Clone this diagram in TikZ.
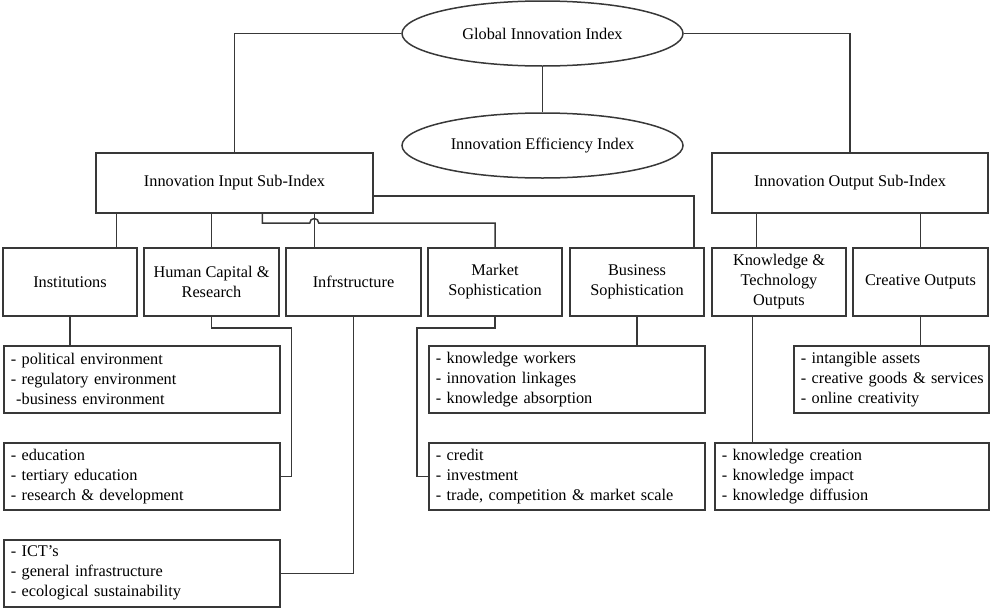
\documentclass[tikz,border=0pt]{standalone}
\usepackage{fontspec}
\setmainfont{Liberation Serif}
\usetikzlibrary{shapes.geometric,calc}
\tikzset{
  ln/.style={line width=1.5pt, draw=black!78},
  box/.style={draw=black!78, line width=1.5pt, rectangle, inner sep=0pt, align=center, font=\fontsize{16.3}{20}\selectfont},
  lbox/.style={draw=black!78, line width=1.5pt, rectangle, inner xsep=7pt, inner ysep=0pt, align=left, anchor=north west, font=\fontsize{16.3}{20}\selectfont},
  ell/.style={draw=black!78, line width=1.5pt, ellipse, inner sep=0pt, minimum width=281pt, minimum height=65pt, font=\fontsize{16.3}{20}\selectfont},
}
\begin{document}
\begin{tikzpicture}[x=1pt,y=-1pt]
\useasboundingbox (0,0) rectangle (990,608);
% ellipses
\node[ell] (gii) at (542.5,33.5) {Global Innovation Index};
\node[ell] (gie) at (542.5,145.5) {Innovation Efficiency Index};
% sub-indices
\node[box, minimum width=277pt, minimum height=60pt] (input) at (234.5,183) {Innovation Input Sub-Index};
\node[box, minimum width=276pt, minimum height=60pt] (output) at (850,183) {Innovation Output Sub-Index};
% pillars
\node[box, minimum width=134pt, minimum height=68pt] (inst) at (70,282) {Institutions};
\node[box, minimum width=135pt, minimum height=68pt] (hc) at (211.5,282) {Human Capital \&\\Research};
\node[box, minimum width=135pt, minimum height=68pt] (infra) at (353.5,282) {Infrstructure};
\node[box, minimum width=134pt, minimum height=68pt] (mkt) at (495,282) {Market\\Sophistication};
\node[box, minimum width=134pt, minimum height=68pt] (bus) at (637,282) {Business\\Sophistication};
\node[box, minimum width=134pt, minimum height=68pt] (kt) at (779,282) {Knowledge \&\\Technology\\Outputs};
\node[box, minimum width=135pt, minimum height=68pt] (cre) at (920.5,282) {Creative Outputs};
% detail boxes
\node[lbox, text width=262pt, minimum height=67pt] (pol) at (3,345) {- political environment\\- regulatory environment\\\ -business environment};
\node[lbox, text width=262pt, minimum height=67pt] (edu) at (3,442) {- education\\- tertiary education\\- research \& development};
\node[lbox, text width=262pt, minimum height=67pt] (ict) at (3,539) {- ICT’s\\- general infrastructure\\- ecological sustainability};
\node[lbox, text width=262pt, minimum height=67pt] (kw) at (428,345) {- knowledge workers\\- innovation linkages\\- knowledge absorption};
\node[lbox, text width=262pt, minimum height=67pt] (cred) at (428,442) {- credit\\- investment\\- trade, competition \& market scale};
\node[lbox, text width=181pt, minimum height=67pt] (int) at (793,345) {- intangible assets\\\mbox{- creative goods \& services}\\- online creativity};
\node[lbox, text width=260pt, minimum height=67pt] (kc) at (714,442) {- knowledge creation\\- knowledge impact\\- knowledge diffusion};
% connectors top
\draw[ln] (gii.west) -| (input.north);
\draw[ln] (gii.east) -| (output.north);
\draw[ln] (gii.south) -- (gie.north);
\draw[ln] ([yshift=-13pt]input.east) -| ([xshift=-11pt]bus.north east);
\coordinate (ia) at ([xshift=21pt]input.south west);
\draw[ln] (ia) -- (ia |- inst.north);
\draw[ln] (hc.north |- input.south) -- (hc.north);
\coordinate (ib) at ([xshift=219pt]input.south west);
\draw[ln] (ib) -- (ib |- infra.north);
\coordinate (ic) at ([xshift=167pt]input.south west);
\coordinate (hop) at (ib |- 0,223);
\draw[ln] (ic) -- (ic |- hop) -- ([xshift=-4.5pt]hop) arc[start angle=180, end angle=0, radius=4.5pt] -- (hop -| mkt.north) -- (mkt.north);
\coordinate (oa) at ([xshift=45pt]output.south west);
\draw[ln] (oa) -- (oa |- kt.north);
\draw[ln] (cre.north |- output.south) -- (cre.north);
% connectors bottom
\draw[ln] (inst.south) -- (inst.south |- pol.north);
\draw[ln] (hc.south) -- ++(0,11) -| ([xshift=11pt]edu.east) -- (edu.east);
\draw[ln] (infra.south) |- (ict.east);
\draw[ln] (bus.south) -- (bus.south |- kw.north);
\draw[ln] (mkt.south) -- ++(0,11) -| ([xshift=-11pt]cred.west) -- (cred.west);
\draw[ln] (cre.south) -- (cre.south |- int.north);
\coordinate (ob) at ([xshift=41pt]kt.south west);
\draw[ln] (ob) -- (ob |- kc.north);
\end{tikzpicture}
\end{document}
